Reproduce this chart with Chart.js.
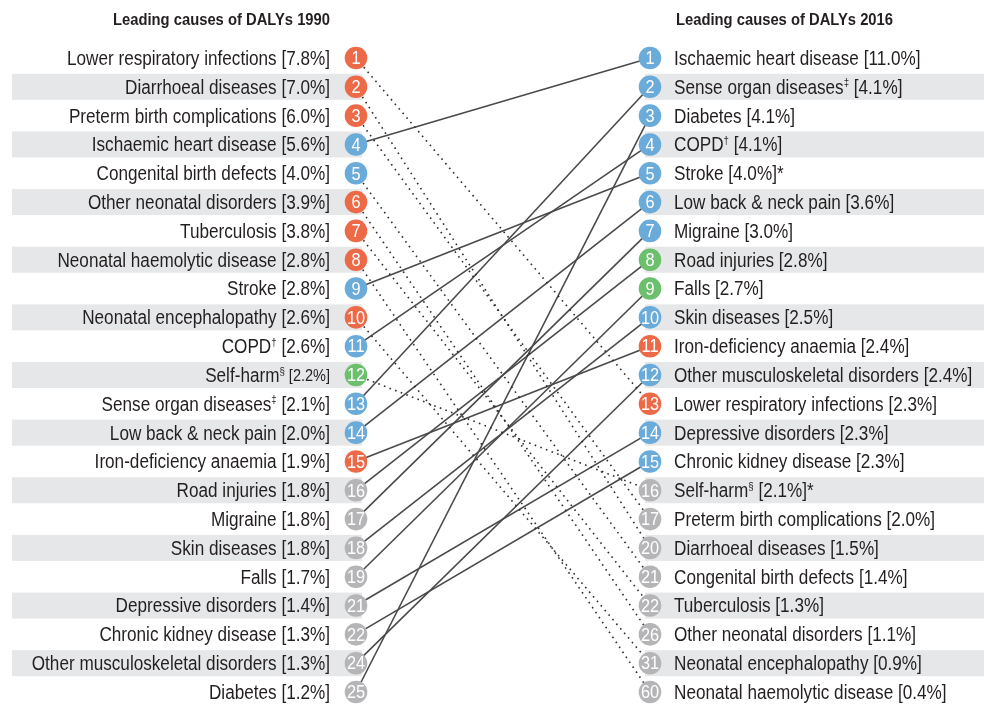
<!DOCTYPE html>
<html><head><meta charset="utf-8">
<script src="https://cdn.jsdelivr.net/npm/chart.js@4/dist/chart.umd.min.js"></script>
<style>html,body{margin:0;padding:0;background:#fff}#wrap{width:984px;height:704px;position:relative}</style>
</head><body><div id="wrap"><canvas id="c"></canvas></div>
<script>
// ---- data (ordered by 1990 rank) ----
const causes = [
  'Lower respiratory infections','Diarrhoeal diseases','Preterm birth complications','Ischaemic heart disease',
  'Congenital birth defects','Other neonatal disorders','Tuberculosis','Neonatal haemolytic disease',
  'Stroke','Neonatal encephalopathy','COPD','Self-harm','Sense organ diseases','Low back & neck pain',
  'Iron-deficiency anaemia','Road injuries','Migraine','Skin diseases','Falls','Depressive disorders',
  'Chronic kidney disease','Other musculoskeletal disorders','Diabetes'
];
const supMarks = ['','','','','','','','','','','\u2020','\u00a7','\u2021','','','','','','','','','',''];
const share1990 = [7.8,7.0,6.0,5.6,4.0,3.9,3.8,2.8,2.8,2.6,2.6,2.2,2.1,2.0,1.9,1.8,1.8,1.8,1.7,1.4,1.3,1.3,1.2];
const share2016 = [2.3,1.5,2.0,11.0,1.4,1.1,1.3,0.4,4.0,0.9,4.1,2.1,4.1,3.6,2.4,2.8,3.0,2.5,2.7,2.3,2.3,2.4,4.1];
const rank1990 = [1,2,3,4,5,6,7,8,9,10,11,12,13,14,15,16,17,18,19,21,22,24,25];
const rank2016 = [13,20,17,1,21,26,22,60,5,31,4,16,2,6,11,8,7,10,9,14,15,12,3];
const note2016 = ['','','','','','','','','*','','','*','','','','','','','','','','',''];
// C = communicable/maternal/neonatal, N = non-communicable, I = injuries
const groups = ['C','C','C','N','N','C','C','C','N','C','N','I','N','N','C','I','N','N','I','N','N','N','N'];
const titles = ['Leading causes of DALYs 1990','Leading causes of DALYs 2016'];

// ---- styles ----
const groupColor = {C:'#ec6a48', N:'#6aabd9', I:'#6cbf6c'};
const greyColor = '#b5b5b7';
const FONT = '"Liberation Sans Narrow","Arial Narrow","Liberation Sans",sans-serif';
const TEXT = '#231f20';

const n = causes.length;
const pos1990 = causes.map((c,i)=>i+1);
const order2016 = causes.map((c,i)=>i).sort((a,b)=>rank2016[a]-rank2016[b]);
const pos2016 = new Array(n);
order2016.forEach((ci,p)=>{pos2016[ci]=p+1;});
const colorFor = (rank,g)=> rank<=15 ? groupColor[g] : greyColor;

const datasets = [];
datasets.push({
  type:'scatter', label:'1990', order:0, clip:false,
  data: causes.map((c,i)=>({x:0,y:pos1990[i]})),
  pointRadius:11.3, pointHoverRadius:11.3, pointBorderWidth:0,
  pointBackgroundColor: causes.map((c,i)=>colorFor(rank1990[i],groups[i])),
  ranks: rank1990
});
datasets.push({
  type:'scatter', label:'2016', order:0, clip:false,
  data: causes.map((c,i)=>({x:1,y:pos2016[i]})),
  pointRadius:11.3, pointHoverRadius:11.3, pointBorderWidth:0,
  pointBackgroundColor: causes.map((c,i)=>colorFor(rank2016[i],groups[i])),
  ranks: rank2016
});
causes.forEach((c,i)=>{
  const up = rank2016[i] < rank1990[i];
  datasets.push({
    type:'line', label:c, order:1, clip:false,
    data:[{x:0,y:pos1990[i]},{x:1,y:pos2016[i]}],
    borderColor: up ? '#4a4a4a' : '#2e2e2e',
    borderWidth: up ? 1.6 : 1.6,
    borderDash: up ? [] : [1.6,4.4],
    pointRadius:0, tension:0
  });
});

// draw horizontally condensed text segments
function drawRich(ctx, segs, x, y, align, sx){
  let total = 0;
  segs.forEach(s=>{ctx.font=s.f; s.w=ctx.measureText(s.t).width*sx; total+=s.w;});
  let cx = align==='right' ? x-total : (align==='center' ? x-total/2 : x);
  segs.forEach(s=>{
    ctx.font=s.f;
    ctx.save(); ctx.translate(cx, y+(s.dy||0)); ctx.scale(sx,1);
    ctx.fillText(s.t,0,0); ctx.restore();
    cx+=s.w;
  });
}

const decor = {
  id:'decor',
  beforeDatasetsDraw(chart){
    const ctx = chart.ctx, ys = chart.scales.y;
    ctx.save();
    ctx.fillStyle = '#e6e7e8';
    for(let r=2;r<=n;r+=2){
      const y = ys.getPixelForValue(r);
      ctx.fillRect(12, y-13, 350, 26);
      ctx.fillRect(645, y-13, 984-645, 26);
    }
    ctx.restore();
  },
  afterDatasetsDraw(chart){
    const ctx = chart.ctx, ys = chart.scales.y, xs = chart.scales.x;
    ctx.save();
    ctx.textAlign='left'; ctx.textBaseline='middle';
    const mainF = '19.5px '+FONT, supF = '11px '+FONT, smallF = '16.5px '+FONT;
    ctx.font = mainF;
    const sx = 263 / ctx.measureText('Lower respiratory infections [7.8%]').width;
    // numbers in circles
    [0,1].forEach(d=>{
      const meta = chart.getDatasetMeta(d);
      const ranks = chart.data.datasets[d].ranks;
      ctx.fillStyle = '#ffffff';
      meta.data.forEach((pt,i)=>{
        drawRich(ctx,[{t:String(ranks[i]),f:'19px '+FONT}], pt.x, pt.y+1, 'center', 0.86);
      });
    });
    // labels
    ctx.fillStyle = TEXT;
    const xl = xs.getPixelForValue(0), xr = xs.getPixelForValue(1);
    causes.forEach((c,i)=>{
      const y1 = ys.getPixelForValue(pos1990[i])+1.5;
      drawRich(ctx,[{t:c,f:mainF},{t:supMarks[i],f:supF,dy:-5},{t:' ['+share1990[i].toFixed(1)+'%]',f:(i===11?smallF:mainF)}], xl-26, y1, 'right', sx);
      const y2 = ys.getPixelForValue(pos2016[i])+1.5;
      drawRich(ctx,[{t:c,f:mainF},{t:supMarks[i],f:supF,dy:-5},{t:' ['+share2016[i].toFixed(1)+'%]'+note2016[i],f:mainF}], xr+24, y2, 'left', sx);
    });
    // titles
    const tF = 'bold 16px '+FONT;
    ctx.font = tF;
    const tsx = 217 / ctx.measureText(titles[0]).width;
    drawRich(ctx,[{t:titles[0],f:tF}], xl-26, 21, 'right', tsx);
    drawRich(ctx,[{t:titles[1],f:tF}], xr+26, 21, 'left', tsx);
    ctx.restore();
  }
};

new Chart(document.getElementById('c'), {
  data:{datasets},
  options:{
    responsive:true, maintainAspectRatio:false, animation:false,
    layout:{padding:{left:356,right:334,top:58,bottom:12}},
    plugins:{legend:{display:false},tooltip:{enabled:false}},
    events:[],
    scales:{
      x:{type:'linear',min:0,max:1,display:false},
      y:{type:'linear',min:1,max:23,reverse:true,display:false}
    }
  },
  plugins:[decor]
});
</script></body></html>
